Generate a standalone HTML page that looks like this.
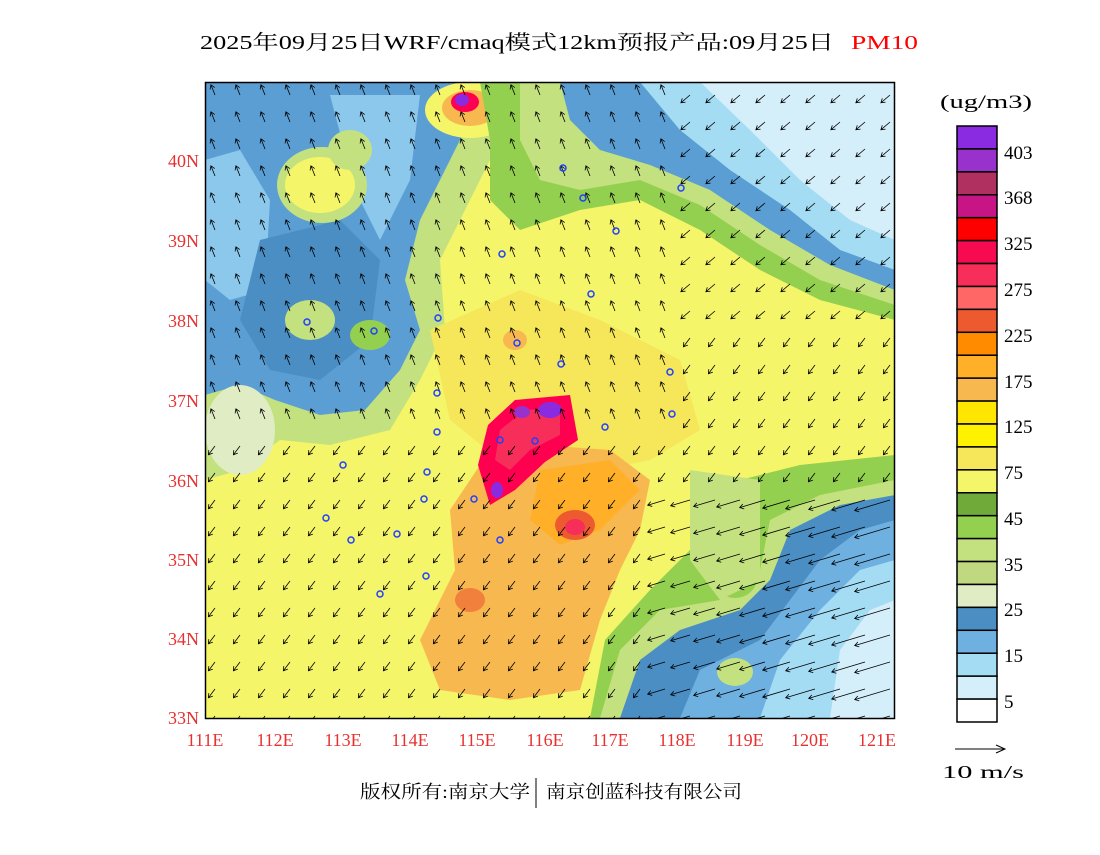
<!DOCTYPE html>
<html><head><meta charset="utf-8"><style>
body{margin:0;background:#fff;width:1100px;height:850px;overflow:hidden;font-family:"Liberation Serif","Noto Serif CJK SC",serif}
</style></head><body>
<svg id="s" width="1100" height="850" xmlns="http://www.w3.org/2000/svg" font-family="Liberation Serif, Noto Serif CJK SC, serif">
<defs><clipPath id="c"><rect x="205" y="82" width="690" height="636"/></clipPath></defs>
<text x="200" y="49" font-size="20" fill="#000" textLength="634" lengthAdjust="spacingAndGlyphs">2025年09月25日WRF/cmaq模式12km预报产品:09月25日</text>
<text x="851" y="49" font-size="20" fill="#f00" textLength="67" lengthAdjust="spacingAndGlyphs">PM10</text>
<g clip-path="url(#c)">
<rect x="205" y="82" width="690" height="636" fill="#F5F56A"/>
<path d="M205,82 L520,82 L500,140 L470,200 L440,260 L445,330 L420,380 L390,430 L330,445 L280,440 L240,470 L205,480Z" fill="#C4E180"/>
<path d="M205,82 L480,82 L470,120 L445,170 L420,220 L405,280 L420,330 L400,370 L365,410 L320,415 L275,400 L240,385 L205,395Z" fill="#5A9ED4"/>
<path d="M205,160 L240,150 L270,200 L265,290 L230,300 L205,280Z" fill="#8CC8EC"/>
<path d="M260,240 L340,220 L380,260 L370,340 L320,380 L270,370 L240,320Z" fill="#4A8EC4"/>
<path d="M330,95 L420,95 L410,180 L380,240 L355,190Z" fill="#8CC8EC"/>
<ellipse cx="322" cy="185" rx="45" ry="38" fill="#C4E180"/>
<ellipse cx="320" cy="185" rx="35" ry="28" fill="#F5F56A"/>
<ellipse cx="350" cy="150" rx="22" ry="20" fill="#C4E180"/>
<ellipse cx="240" cy="430" rx="35" ry="45" fill="#E0ECC4"/>
<ellipse cx="310" cy="320" rx="25" ry="20" fill="#C4E180"/>
<ellipse cx="370" cy="335" rx="20" ry="15" fill="#94D050"/>
<ellipse cx="470" cy="110" rx="45" ry="28" fill="#F5F56A"/>
<ellipse cx="470" cy="108" rx="28" ry="18" fill="#F8B850"/>
<ellipse cx="465" cy="102" rx="14" ry="10" fill="#FF0050"/>
<ellipse cx="462" cy="100" rx="7" ry="6" fill="#8A2BE2"/>
<path d="M480,82 L895,82 L895,320 L820,300 L760,270 L700,230 L640,200 L580,210 L520,230 L490,200 L490,140Z" fill="#94D050"/>
<path d="M520,82 L895,82 L895,305 L820,280 L760,245 L700,205 L640,180 L580,190 L540,180 L520,140Z" fill="#C4E180"/>
<path d="M560,82 L895,82 L895,290 L830,265 L770,230 L710,190 L650,165 L600,150 L570,120Z" fill="#5A9ED4"/>
<path d="M640,82 L895,82 L895,270 L840,250 L790,210 L730,170 L680,130Z" fill="#A4DCF4"/>
<path d="M700,82 L895,82 L895,240 L850,220 L800,180 L750,130Z" fill="#D4EEFA"/>
<path d="M590,718 L605,640 L650,590 L700,540 L740,480 L800,465 L895,455 L895,718Z" fill="#94D050"/>
<path d="M600,718 L620,650 L660,610 L720,600 L760,570 L770,520 L820,495 L895,480 L895,718Z" fill="#C4E180"/>
<path d="M620,718 L640,660 L680,630 L740,610 L770,580 L790,530 L840,505 L895,495 L895,718Z" fill="#4A8EC4"/>
<path d="M680,718 L700,670 L760,640 L790,600 L820,560 L860,530 L895,520 L895,718Z" fill="#6EB0E0"/>
<path d="M760,718 L780,660 L820,610 L860,570 L895,560 L895,718Z" fill="#A4DCF4"/>
<path d="M830,718 L840,650 L870,610 L895,600 L895,718Z" fill="#D4EEFA"/>
<ellipse cx="735" cy="672" rx="18" ry="14" fill="#C4E180"/>
<ellipse cx="735" cy="578" rx="22" ry="20" fill="#94D050"/>
<path d="M690,470 L760,480 L760,580 L720,600 L690,560Z" fill="#C4E180"/>
<path d="M430,330 L520,290 L600,320 L680,360 L700,430 L650,460 L600,470 L500,460 L450,420Z" fill="#F5E65A"/>
<path d="M480,465 L540,445 L610,450 L650,480 L640,530 L620,570 L600,620 L580,690 L510,700 L440,690 L420,640 L455,570 L450,510Z" fill="#F8B850"/>
<path d="M540,470 L610,460 L640,490 L600,530 L560,545 L530,520Z" fill="#FFB028"/>
<ellipse cx="575" cy="525" rx="20" ry="15" fill="#EE5A30"/>
<ellipse cx="575" cy="527" rx="10" ry="8" fill="#F72D5A"/>
<path d="M488,425 L515,400 L570,395 L578,440 L545,462 L515,490 L490,505 L478,465Z" fill="#FF0050"/>
<path d="M500,430 L525,410 L560,408 L560,435 L530,450 L510,470 L495,460Z" fill="#F72D5A"/>
<ellipse cx="550" cy="410" rx="12" ry="8" fill="#8A2BE2"/>
<ellipse cx="522" cy="412" rx="8" ry="6" fill="#9932CC"/>
<ellipse cx="497" cy="490" rx="6" ry="8" fill="#8A2BE2"/>
<ellipse cx="515" cy="340" rx="12" ry="10" fill="#F8B850"/>
<ellipse cx="470" cy="600" rx="15" ry="12" fill="#EE5A30" opacity=".6"/>
<g id="arr" stroke="#000" stroke-width="0.8" fill="none"></g>
<g id="cir" stroke="#2040ff" stroke-width="1.5" fill="none"></g>
</g>
<rect x="205.5" y="82.5" width="689" height="636" fill="none" stroke="#000" stroke-width="1.5"/>
<g fill="#e83030" font-size="18" text-anchor="end">
<text x="199" y="167">40N</text><text x="199" y="247">39N</text><text x="199" y="327">38N</text><text x="199" y="407">37N</text><text x="199" y="487">36N</text><text x="199" y="566">35N</text><text x="199" y="645">34N</text><text x="199" y="724">33N</text>
</g>
<g fill="#e83030" font-size="18" text-anchor="middle">
<text x="205" y="746">111E</text><text x="275" y="746">112E</text><text x="343" y="746">113E</text><text x="410" y="746">114E</text><text x="477" y="746">115E</text><text x="545" y="746">116E</text><text x="610" y="746">117E</text><text x="677" y="746">118E</text><text x="745" y="746">119E</text><text x="810" y="746">120E</text><text x="877" y="746">121E</text>
</g>
<text x="940" y="108" font-size="19" textLength="92" lengthAdjust="spacingAndGlyphs">(ug/m3)</text>
<g id="cb" stroke="#000" stroke-width="1.5"></g>
<g font-size="19">
<text x="1004" y="159">403</text><text x="1004" y="204">368</text><text x="1004" y="250">325</text><text x="1004" y="296">275</text><text x="1004" y="342">225</text><text x="1004" y="388">175</text><text x="1004" y="433">125</text><text x="1004" y="479">75</text><text x="1004" y="525">45</text><text x="1004" y="571">35</text><text x="1004" y="616">25</text><text x="1004" y="662">15</text><text x="1004" y="708">5</text>
</g>
<line x1="955" y1="749" x2="1004" y2="749" stroke="#000"/><path d="M996,745 L1005,749 L996,753" fill="none" stroke="#000"/>
<text x="942" y="778" font-size="18" textLength="82" lengthAdjust="spacingAndGlyphs">10 m/s</text>
<text x="360" y="798" font-size="18" textLength="170" lengthAdjust="spacingAndGlyphs">版权所有:南京大学</text>
<line x1="536" y1="778" x2="536" y2="808" stroke="#000"/>
<text x="546" y="798" font-size="18" textLength="196" lengthAdjust="spacingAndGlyphs">南京创蓝科技有限公司</text>
</svg>
<script>
var ns="http://www.w3.org/2000/svg";
var cols=["#8A2BE2","#9932CC","#B03060","#C71585","#FF0000","#F80A50","#F72D5A","#FF6666","#EE5A30","#FF8C00","#FFB028","#F8B850","#FFE600","#FFF200","#F5E65A","#F5F56A","#70AA38","#94D050","#C4E180","#C0D880","#E0ECC4","#4A8EC4","#6EB0E0","#A4DCF4","#D4EEFA","#FFFFFF"];
var cb=document.getElementById("cb"),h=596/26;
cols.forEach(function(c,i){var r=document.createElementNS(ns,"rect");r.setAttribute("x",957);r.setAttribute("y",126+i*h);r.setAttribute("width",40);r.setAttribute("height",h);r.setAttribute("fill",c);cb.appendChild(r);});
var g=document.getElementById("arr"),s="";
for(var y=95;y<718;y+=27){for(var x=215;x<895;x+=25){
 var dx,dy,len;
 if(y<420&&x<680){dx=-0.4;dy=-1;len=11;}
 else if(y<330){dx=-0.7;dy=0.6;len=12;}
 else if(x>640&&y>480){dx=-1;dy=0.3;len=16+(x-640)/12;}
 else {dx=-0.6;dy=0.8;len=11;}
 var n=Math.hypot(dx,dy);dx/=n;dy/=n;
 var x2=x+dx*len,y2=y+dy*len;
 var ax=-dx*4,ay=-dy*4;
 s+="M"+x+","+y+"L"+x2+","+y2+"M"+(x2+ax-dy*2.5)+","+(y2+ay+dx*2.5)+"L"+x2+","+y2+"L"+(x2+ax+dy*2.5)+","+(y2+ay-dx*2.5);
}}
var p=document.createElementNS(ns,"path");p.setAttribute("d",s);g.appendChild(p);
var pts=[[563,168],[583,198],[616,231],[502,254],[591,294],[438,318],[307,322],[374,331],[517,343],[561,364],[670,372],[437,393],[672,414],[605,427],[437,432],[535,441],[500,440],[427,472],[343,465],[474,499],[424,499],[326,518],[397,534],[351,540],[500,540],[426,576],[380,594],[681,188]];
var cg=document.getElementById("cir");
pts.forEach(function(q){var c=document.createElementNS(ns,"circle");c.setAttribute("cx",q[0]);c.setAttribute("cy",q[1]);c.setAttribute("r",3);cg.appendChild(c);});
</script>
</body></html>
